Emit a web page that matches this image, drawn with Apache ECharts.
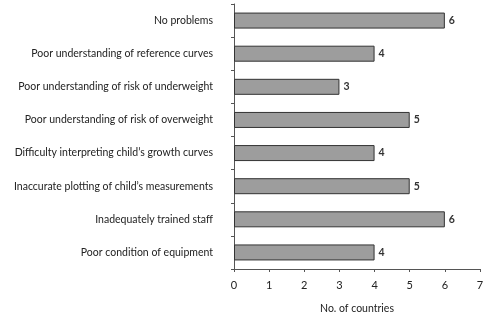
<!DOCTYPE html>
<html><head><meta charset="utf-8">
<script src="https://cdn.jsdelivr.net/npm/echarts@6/dist/echarts.min.js"></script>
<style>html,body{margin:0;padding:0;background:#fff}#c{width:497px;height:326px}</style>
</head><body><div id="c"></div>
<script>
const categories = [
  "No problems",
  "Poor understanding of reference curves",
  "Poor understanding of risk of underweight",
  "Poor understanding of risk of overweight",
  "Difficulty interpreting child\u2019s growth curves",
  "Inaccurate plotting of child\u2019s measurements",
  "Inadequately trained staff",
  "Poor condition of equipment"
];
const values = [6, 4, 3, 5, 4, 5, 6, 4];
const xTicks = [0, 1, 2, 3, 4, 5, 6, 7];
const xAxisName = "No. of countries";

const chart = echarts.init(document.getElementById('c'), null, {renderer: 'canvas'});
const font = 'Lato';
chart.setOption({
  animation: false,
  grid: {left: 234, right: 17, top: 4, bottom: 57, containLabel: false},
  xAxis: {
    type: 'value', min: xTicks[0], max: xTicks[xTicks.length - 1], interval: 1,
    name: xAxisName, nameLocation: 'middle', nameGap: 34,
    nameTextStyle: {fontFamily: font, fontSize: 10.5, color: '#222'},
    axisLine: {show: true, lineStyle: {color: '#555', width: 1}},
    axisTick: {show: true, length: 3, lineStyle: {color: '#555'}},
    axisLabel: {fontFamily: font, fontSize: 11, color: '#222', margin: 11},
    splitLine: {show: false}
  },
  yAxis: {
    type: 'category', data: categories, inverse: true,
    axisLine: {show: true, lineStyle: {color: '#555', width: 1}},
    axisTick: {show: true, length: 3, lineStyle: {color: '#555'}},
    axisLabel: {fontFamily: font, fontSize: 10.5, color: '#222', margin: 21}
  },
  series: [{
    type: 'bar', data: values, barWidth: 16,
    itemStyle: {color: '#9d9d9d', borderColor: '#333', borderWidth: 1},
    label: {show: true, position: 'right', distance: 4, fontFamily: font, fontSize: 10.5, fontWeight: 'bold', color: '#333'}
  }]
});
</script></body></html>
